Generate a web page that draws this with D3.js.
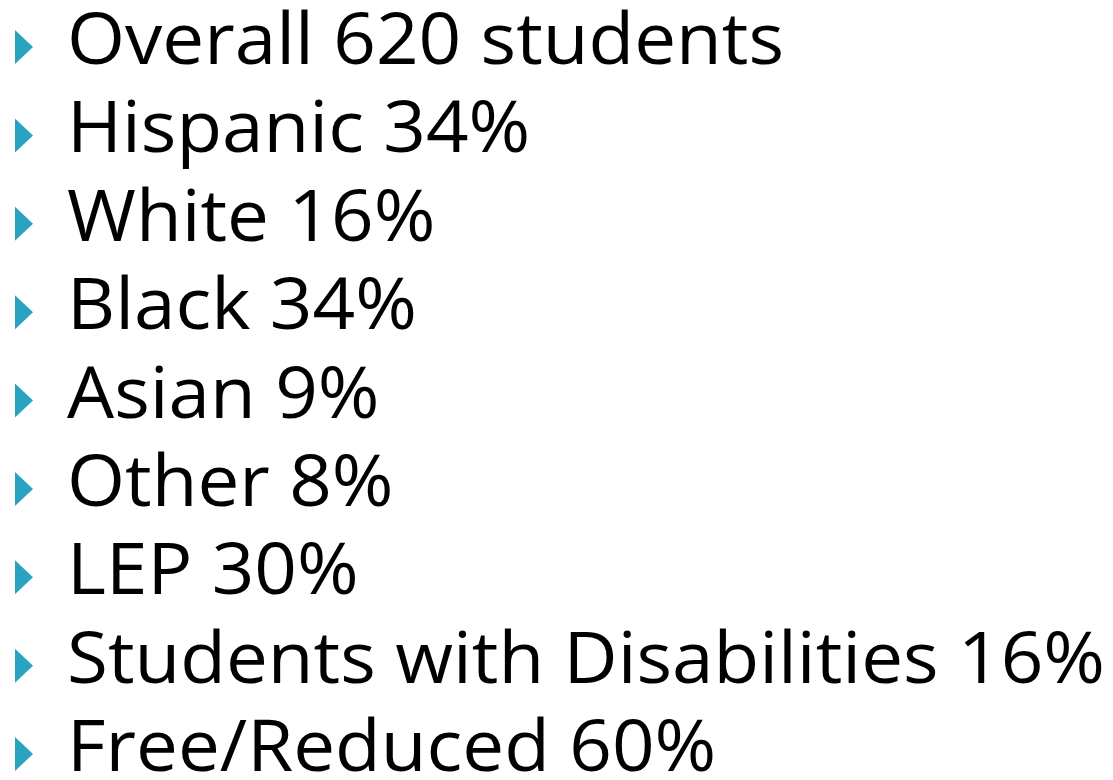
<!DOCTYPE html>
<html><head><meta charset="utf-8">
<script src="https://cdn.jsdelivr.net/npm/d3@7"></script>
<style>html,body{margin:0;padding:0;background:#fff;overflow:hidden}</style>
</head><body>
<svg id="chart" width="1113" height="780"></svg>
<script>
const categories = ["Overall", "Hispanic", "White", "Black", "Asian", "Other", "LEP", "Students with Disabilities", "Free/Reduced"];
const values = ["620 students", "34%", "16%", "34%", "9%", "8%", "30%", "16%", "60%"];

const W = 1113, H = 780;
const svg = d3.select("#chart");
const y = d3.scalePoint().domain(d3.range(categories.length)).range([64, 771]);
const fontSize = 72;
const textX = 67;

const rows = svg.selectAll("g.row").data(categories).join("g")
  .attr("class", "row")
  .attr("transform", (d, i) => `translate(0,${y(i)})`);

rows.append("path")
  .attr("d", "M15,-34 L33,-17 L15,0 Z")
  .attr("fill", "#2aa3c0");

const texts = rows.append("text")
  .attr("x", textX)
  .attr("y", 0)
  .attr("font-family", "'Open Sans', sans-serif")
  .attr("font-size", fontSize)
  .attr("fill", "#000")
  .text((d, i) => d + " " + values[i]);

// horizontal fit: longest line spans to right edge of reference layout
const lens = texts.nodes().map(n => n.getComputedTextLength());
const sx = (1105 - textX) / d3.max(lens);
texts.attr("textLength", (d, i) => lens[i] * sx).attr("lengthAdjust", "spacingAndGlyphs");
</script>
</body></html>
